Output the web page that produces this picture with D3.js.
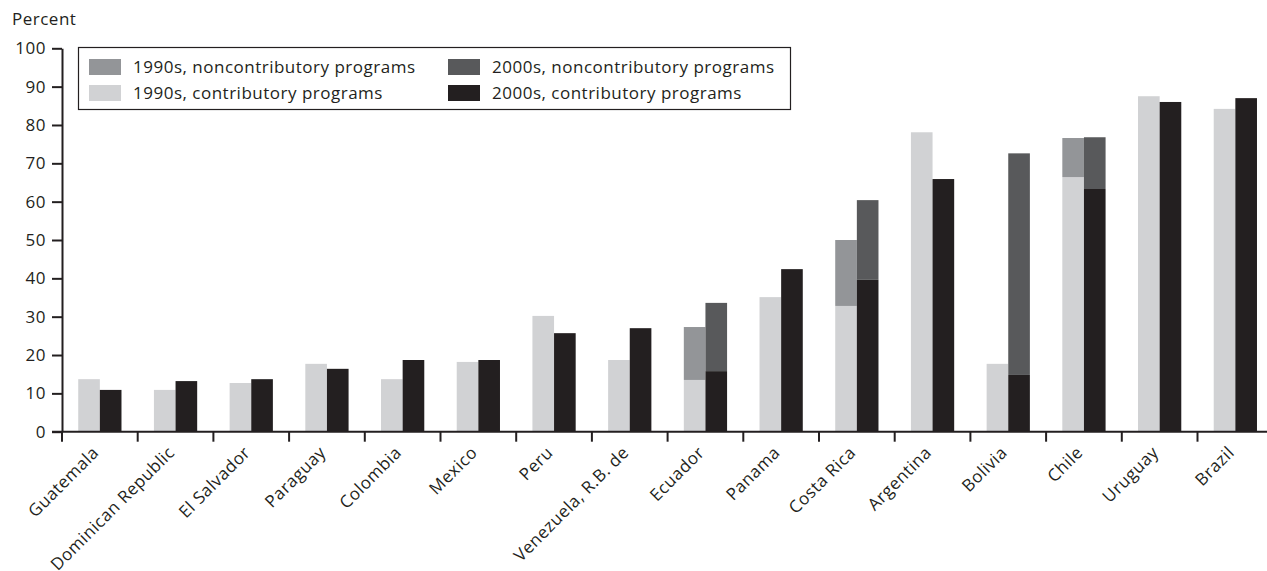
<!DOCTYPE html>
<html><head><meta charset="utf-8">
<script src="https://cdn.jsdelivr.net/npm/d3@7"></script>
<style>
html,body{margin:0;padding:0;background:#fff;}
svg{display:block;}
text{font-family:"Open Sans",sans-serif;fill:#231f20;letter-spacing:0.5px;}
</style></head>
<body>
<svg id="chart" width="1267" height="571"></svg>
<script>
const countries = ["Guatemala","Dominican Republic","El Salvador","Paraguay","Colombia","Mexico","Peru","Venezuela, R.B. de","Ecuador","Panama","Costa Rica","Argentina","Bolivia","Chile","Uruguay","Brazil"];
const contrib1990s    = [13.7,10.9,12.7,17.7,13.7,18.2,30.2,18.7,13.5,35.1,32.8,78.1,17.7,66.4,87.5,84.2];
const noncontrib1990s = [0,0,0,0,0,0,0,0,13.8,0,17.2,0,0,10.2,0,0];
const contrib2000s    = [10.9,13.2,13.7,16.4,18.7,18.7,25.7,27.0,15.8,42.4,39.6,65.9,14.8,63.3,86.0,87.0];
const noncontrib2000s = [0,0,0,0,0,0,0,0,17.8,0,20.8,0,57.8,13.5,0,0];
const yTicks = [0,10,20,30,40,50,60,70,80,90,100];
const decades = ["1990s","2000s"];
const legendItems = [
  {label:"1990s, noncontributory programs", key:"n90"},
  {label:"2000s, noncontributory programs", key:"n00"},
  {label:"1990s, contributory programs", key:"c90"},
  {label:"2000s, contributory programs", key:"c00"}
];
const colors = {c90:"#d1d2d4", n90:"#939598", c00:"#231f20", n00:"#58595b"};

const svg = d3.select("#chart");
const ink = "#231f20";
const fs = 17;
const left = 62, step = 75.7;
const y = d3.scaleLinear().domain([0,100]).range([431.7,48.3]);
const xb = d3.scaleBand().domain(countries).range([left, left+step*countries.length]).padding(0);
const x1 = d3.scaleBand().domain(decades).range([0, xb.bandwidth()]).paddingInner(0).paddingOuter(0.75);

// bars
const g = svg.append("g");
countries.forEach((c,i)=>{
  const segs = [
    {d:"1990s", y0:0, y1:contrib1990s[i], k:"c90"},
    {d:"1990s", y0:contrib1990s[i], y1:contrib1990s[i]+noncontrib1990s[i], k:"n90"},
    {d:"2000s", y0:0, y1:contrib2000s[i], k:"c00"},
    {d:"2000s", y0:contrib2000s[i], y1:contrib2000s[i]+noncontrib2000s[i], k:"n00"}
  ].filter(s=>s.y1>s.y0);
  g.selectAll(null).data(segs).enter().append("rect")
    .attr("x", s=>xb(c)+x1(s.d))
    .attr("width", x1.bandwidth())
    .attr("y", s=>y(s.y1))
    .attr("height", s=>y(s.y0)-y(s.y1))
    .attr("fill", s=>colors[s.k]);
});

// y axis
const yAxis = d3.axisLeft(y).tickValues(yTicks).tickSize(10).tickSizeOuter(0).tickPadding(6);
const ya = svg.append("g").attr("transform",`translate(${left},0)`).call(yAxis);
ya.attr("font-size",null).attr("font-family",null);
ya.select(".domain").attr("stroke",ink).attr("stroke-width",2);
ya.selectAll(".tick line").attr("stroke",ink).attr("stroke-width",2);
ya.selectAll(".tick text").attr("font-size",fs).attr("fill",ink);

// x axis line
svg.append("line").attr("x1",left-10).attr("x2",1267).attr("y1",y(0)).attr("y2",y(0))
  .attr("stroke",ink).attr("stroke-width",2);
// x ticks at category boundaries
svg.append("g").selectAll("line").data(countries).enter().append("line")
  .attr("x1",c=>xb(c)).attr("x2",c=>xb(c))
  .attr("y1",y(0)).attr("y2",y(0)+10)
  .attr("stroke",ink).attr("stroke-width",2);
// x labels
svg.append("g").selectAll("text").data(countries).enter().append("text")
  .attr("transform",c=>`translate(${xb(c)+xb.bandwidth()/2},${y(0)+22}) rotate(-45)`)
  .attr("text-anchor","end")
  .attr("font-size",fs)
  .text(c=>c);

// Percent label
svg.append("text").attr("x",12).attr("y",25).attr("font-size",fs).text("Percent");

// legend
svg.append("rect").attr("x",78.5).attr("y",47.5).attr("width",712).attr("height",62)
  .attr("fill","#fff").attr("stroke",ink).attr("stroke-width",1.2);
const colX = [89,448], rowY = [59,85];
const lg = svg.append("g").selectAll("g").data(legendItems).enter().append("g")
  .attr("transform",(d,i)=>`translate(${colX[i%2]},${rowY[Math.floor(i/2)]})`);
lg.append("rect").attr("width",32).attr("height",16).attr("fill",d=>colors[d.key]);
lg.append("text").attr("x",44).attr("y",13.5).attr("font-size",fs).text(d=>d.label);
</script>
</body></html>
